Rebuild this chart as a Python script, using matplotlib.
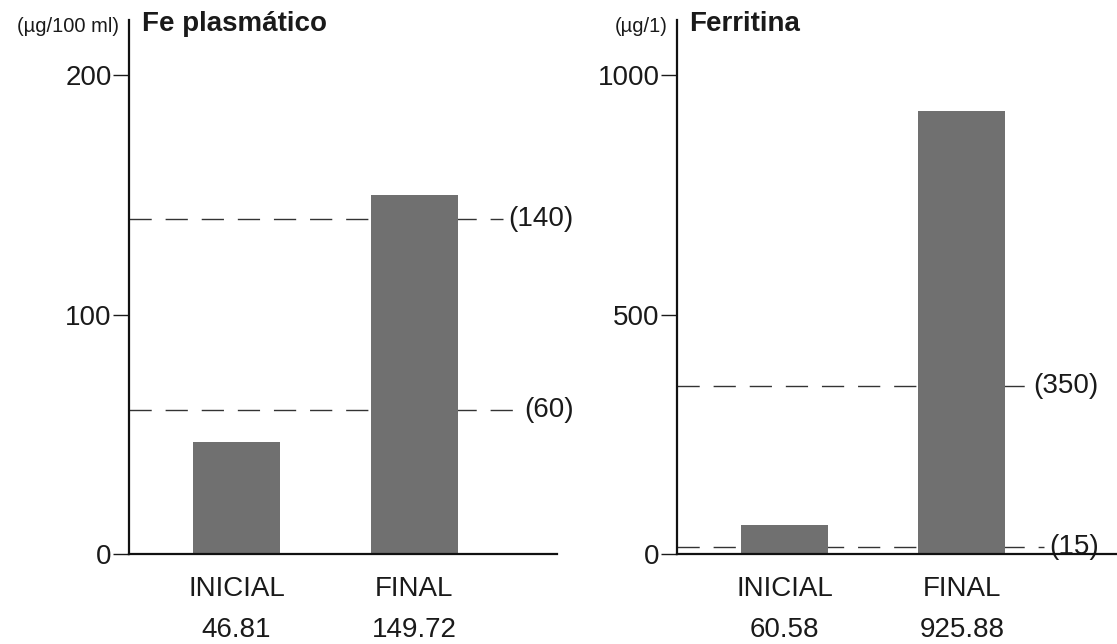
"""
 Fe plasmatico / Ferritina, inicial vs final
"""
import matplotlib.pyplot as plt

plt.rcParams['font.family'] = ['Liberation Sans', 'DejaVu Sans']

categories = ['INICIAL', 'FINAL']
fe_values = [46.81, 149.72]
ferr_values = [60.58, 925.88]
fe_refs = [140, 60]
ferr_refs = [350, 15]

panels = [
    dict(title='Fe plasmático', unit='(µg/100 ml)', vals=fe_values,
         refs=fe_refs, ymax=223, yticks=[0, 100, 200], xmax=2.806,
         lab_end=2.90, left=0.1155),
    dict(title='Ferritina', unit='(µg/1)', vals=ferr_values,
         refs=ferr_refs, ymax=1115, yticks=[0, 500, 1000], xmax=2.873,
         lab_end=2.77, left=0.606),
]

fig = plt.figure(figsize=(11.17, 6.44), dpi=100)
x = [1, 2]
bar_color = '#707070'
txt = '#1a1a1a'

for p in panels:
    ax = fig.add_axes([p['left'], 0.1398, (p['xmax'] - 0.394) * 177.5 / 1117,
                       0.969 - 0.1398])
    ax.bar(x, p['vals'], width=0.49, color=bar_color, zorder=2)
    ax.set_xlim(0.394, p['xmax'])
    ax.set_ylim(0, p['ymax'])
    for r in p['refs']:
        lab = ax.annotate('(%d)' % r, xy=(p['lab_end'], r), ha='right',
                          va='center', fontsize=20, color=txt,
                          annotation_clip=False)
        # dashes run up to the label
        fig.canvas.draw()
        bb = lab.get_window_extent().transformed(ax.transData.inverted())
        ax.plot([0.394, bb.x0 - 0.03], [r, r], color='#333333', lw=1,
                linestyle=(0, (16, 10)), zorder=1, clip_on=False)
    ax.set_xlim(0.394, p['xmax'])
    ax.set_ylim(0, p['ymax'])
    ax.set_yticks(p['yticks'])
    ax.set_yticklabels([str(t) for t in p['yticks']], fontsize=20, color=txt)
    ax.tick_params(axis='y', direction='out', length=11.5, width=1,
                   pad=1, color=txt)
    ax.set_xticks([])
    for s in ['top', 'right']:
        ax.spines[s].set_visible(False)
    for s in ['left', 'bottom']:
        ax.spines[s].set_linewidth(1.6)
        ax.spines[s].set_color('#111111')
        ax.spines[s].set_zorder(3)
    for xi, c, v in zip(x, categories, p['vals']):
        ax.annotate(c, xy=(xi, 0), xycoords=('data', 'axes fraction'),
                    xytext=(0, -25), textcoords='offset points',
                    ha='center', va='center', fontsize=20, color=txt)
        ax.annotate('%.2f' % v, xy=(xi, 0), xycoords=('data', 'axes fraction'),
                    xytext=(0, -55), textcoords='offset points',
                    ha='center', va='center', fontsize=20, color=txt)
    ax.annotate(p['title'], xy=(0, 1.0), xycoords='axes fraction',
                xytext=(9, -3), textcoords='offset points', fontsize=20,
                fontweight='bold', ha='left', va='center', color=txt)
    ax.annotate(p['unit'], xy=(0, 1.0), xycoords='axes fraction',
                xytext=(-7, -5), textcoords='offset points', ha='right',
                va='center', fontsize=14.5, color=txt)

fig.savefig('out.png', dpi=100)
